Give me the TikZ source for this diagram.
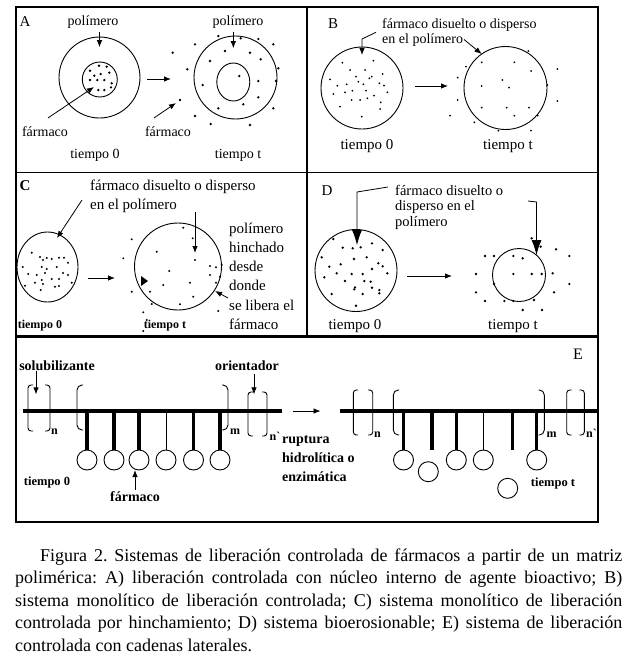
\documentclass[tikz,border=0pt]{standalone}
\usepackage{fontspec}
\setmainfont{Liberation Serif}
\usetikzlibrary{arrows.meta,shapes.geometric}
\frenchspacing
\newcommand\myfs[1]{\fontsize{#1}{#1}\selectfont}
\newcommand\dotset[2]{\foreach \p in {#2} \fill \p circle (#1);}
\begin{document}
\begin{tikzpicture}[x=1pt,y=-1pt,
  frame/.style={line width=1.5pt},
  ring/.style={draw, line width=0.9pt, inner sep=0pt, outer sep=0pt},
  arr/.style={line width=0.8pt, -{Latex[length=7pt,width=5.5pt]}},
  bigarr/.style={line width=0.8pt, -{Latex[length=15pt,width=10pt]}},
  lab/.style={inner sep=0pt, anchor=base},
  brk/.style={line width=0.9pt, rounded corners=3pt},
  pend/.style={line width=3.5pt},
  thinpend/.style={line width=0.8pt},
  chain/.style={line width=4.5pt},
  mol/.style={ring, circle, minimum size=20pt},
]
\useasboundingbox (0,0) rectangle (643,667);
\fill[white] (0,0) rectangle (643,667);

% frame
\draw[frame] (16,7) rectangle (598,522);
\draw[frame] (16,172.5) -- (598,172.5);
\draw[line width=3pt] (16,336) -- (598,336);
\draw[frame] (307,7) -- (307,336);

% ---------------- Panel A
\node[ring,circle,minimum size=81pt] (Aout) at (99.5,77.5) {};
\node[ring,circle,minimum size=35pt] (Ain) at (99.8,79.5) {};
\node[ring,circle,minimum size=83pt] (Aout2) at (235.5,77.5) {};
\node[ring,ellipse,minimum width=33pt,minimum height=38pt] (Ain2) at (233.3,82) {};
\node[lab,font=\myfs{15}] (Alet) at (25,26.5) {A};
\node[lab,font=\myfs{14}] (Ap1) at (93,25) {polímero};
\node[lab,font=\myfs{14}] (Ap2) at (238,25) {polímero};
\node[lab,font=\myfs{14}] (Af1) at (45,136) {fármaco};
\node[lab,font=\myfs{14}] (Af2) at (168,136) {fármaco};
\node[lab,font=\myfs{14}] (At0) at (95,158.5) {tiempo 0};
\node[lab,font=\myfs{14}] (Att) at (238,158.5) {tiempo t};
\draw[arr] (Ap1.south -| Aout.north) ++(0,4) -- ++(0,15);
\draw[arr] (Ap2.south -| Ain2.north) ++(0,4) -- ++(0,16);
\draw[arr] (Af1.north) ++(3,-8) -- (94,87);
\draw[arr] (Af2.north) ++(-14,-8) -- (176,103);
\draw[arr] (Aout.east) ++(7,1.5) -- ++(24,0);
\dotset{1.3pt}{(90,70.7),(99,65.7),(106.7,66.7),(94.3,75.7),(100.7,74),(109.3,72.7),(90,80),(97.3,80),(104.3,80),(111.7,83.3),(98.3,90),(104.3,90),(111,87.3)}
\dotset{1.3pt}{(172.7,52.7),(187.3,69.3),(180,100),(195,44.3),(218.3,36),(240.7,38.3),(258.3,39),(273.3,44.3),(225,51),(250,52.7),(210,61),(260.7,59.3),(278.3,68.3),(276,81),(202.7,85),(239.3,76),(258.3,81),(258.3,97.3),(243.3,104.3),(218.3,108.3),(273.3,108.3),(195,116),(210.7,124),(250,125)}

% ---------------- Panel B
\node[lab,font=\myfs{15}] (Blet) at (333,28.3) {B};
\node[lab,anchor=base west,font=\fontsize{14}{14.6}\selectfont] (Btxt) at (382,28.7) {\parbox[t]{170pt}{\raggedright fármaco disuelto o disperso\\en el polímero}};
\node[ring,circle,minimum size=82pt] (Bc1) at (362,88) {};
\node[ring,circle,minimum size=83pt] (Bc2) at (505.5,88) {};
\draw[arr] (376,32.3) -- (362,39) -- ([yshift=-8pt]Bc1.north);
\draw[arr] (464,39.5) -- (Bc2.125);
\draw[arr] (Bc1.east) ++(12,-2) -- ++(33,0);
\node[lab,font=\myfs{15}] (Bt0) at (367,149.3) {tiempo 0};
\node[lab,font=\myfs{15}] (Btt) at (508,149.3) {tiempo t};
\dotset{1pt}{(342.3,62.7),(373.3,60.7),(350,70),(365,70),(356,76.7),(371.7,76.7),(382.7,74),(330,79.3),(358.3,81.7),(369.3,78.3),(337.3,85.7),(346.7,84.3),(363.3,84.3),(379.3,83.3),(384,85.7),(333.3,94),(345,92.3),(352.3,90.7),(366,90.7),(374,95.7),(387.3,92.3),(351.7,100),(360,100),(367.3,98.3),(380.7,102.3),(380,109),(340,106.7),(361.7,116.7)}
\dotset{1pt}{(475.7,51),(528.3,51),(466,66.7),(481.7,62.3),(514.3,62.3),(531,71),(557.3,69),(457.7,77.7),(502.3,80),(509,87.7),(481.7,86),(547.3,85),(457.7,100),(557.3,101),(481.7,107.7),(506.7,107.7),(529,107.7),(450,115.7),(514.3,115.7),(537.7,115.7),(474.3,122.3),(498.3,130.7),(531,130.7)}

% ---------------- Panel C
\node[lab,font=\bfseries\myfs{15}] (Clet) at (25,190.7) {C};
\node[lab,anchor=base west,font=\fontsize{15}{18.3}\selectfont] (Ctxt) at (90,190.7) {\parbox[t]{200pt}{\raggedright fármaco disuelto o disperso\\en el polímero}};
\node[ring,ellipse,minimum width=61pt,minimum height=70pt] (Cc1) at (47.5,267) {};
\node[ring,circle,minimum size=87pt] (Cc2) at (178,266.5) {};
\draw[arr] (82,200) -- (57,238);
\draw[arr] (195,212) -- (195,253);
\node[lab,anchor=base west,font=\fontsize{15}{19.2}\selectfont] (Crt) at (229,233.3) {\parbox[t]{80pt}{\raggedright polímero\\hinchado\\desde\\donde\\se libera el\\fármaco}};
\draw[arr] (228,298) -- (215,291);
\fill (141,276) -- (141,286) -- (148,281) -- cycle;
\draw[arr] (88,278) -- (115,278);
\node[lab,font=\bfseries\myfs{12}] (Ct0) at (40,328.3) {tiempo 0};
\node[lab,font=\bfseries\myfs{12}] (Ctt) at (165,328.3) {tiempo t};
\dotset{1.1pt}{(31.7,252.7),(40,257),(43,260),(46.7,258),(51.7,259),(59,257.7),(64,257.7),(68,262.7),(22.7,267),(41.7,267),(46.7,269),(56.7,267),(28.3,274),(36.7,275),(45,273),(63,273),(68,275),(35,282.7),(41.7,280),(51.7,279),(59,279),(71.7,282.7),(25,285.7),(43,284),(55,286.7),(59,286),(40.7,290)}
\dotset{1.1pt}{(183.3,227.7),(192.7,238.3),(131.7,239.3),(156.7,251.7),(123.3,258.3),(195,260),(210,266),(216,267.3),(221.7,265),(169.3,271),(210,275),(220,276.7),(190,282.7),(163.3,285),(216,282.7),(150,291.7),(131.7,291.7),(193.3,296.7),(180,304.3),(151.7,304),(218.3,311),(143.3,312.3),(146.7,320),(143.3,331)}

% ---------------- Panel D
\node[lab,font=\myfs{15}] (Dlet) at (327,195) {D};
\node[lab,anchor=base west,font=\fontsize{14.5}{15.5}\selectfont] (Dtxt) at (395,195) {\parbox[t]{130pt}{\raggedright fármaco disuelto o\\disperso en el\\polímero}};
\node[ring,circle,minimum size=82pt] (Dc1) at (356,270.5) {};
\node[ring,circle,minimum size=53pt] (Dc2) at (519,275) {};
\draw[bigarr] (388,187) -- (357,192) -- (357,245);
\draw[bigarr] (528,201) -- (536.5,202) -- (536.5,255);
\draw[arr] (407,276) -- (452,276);
\node[lab,font=\myfs{15}] (Dt0) at (355,329.3) {tiempo 0};
\node[lab,font=\myfs{15}] (Dtt) at (513,329.3) {tiempo t};
\dotset{1.3pt}{(333.3,239),(342.7,247.7),(352.7,248.3),(360.7,247.3),(372,243.3),(382.7,250),(321.7,257.3),(354,259),(366.7,257.3),(329.3,266.7),(340.7,264.3),(378.3,263.3),(382.7,266.3),(372,269),(336.7,273.3),(351.7,274),(362.7,274),(387.3,273.3),(324.3,277.3),(345,281),(364.3,281),(370.7,281.7),(355,287.3),(354.3,289.3),(372,287.7),(379.3,290),(379.3,293.3),(331.7,294),(362.7,294),(356,305.7)}
\dotset{1.3pt}{(531.7,238.3),(540.7,246.7),(556,249.3),(485,256),(494,256),(513.3,256),(522.7,258.3),(569.3,256),(476,274),(513.3,274),(531.7,274),(541.7,274),(552.7,273.3),(494,284),(569.3,284),(476,292.3),(554,292.3),(485,301),(504.3,301),(513.3,301),(534,300),(522.7,310),(542,310)}

% ---------------- Panel E
\node[lab,font=\bfseries\myfs{14}] (sol) at (57,370) {solubilizante};
\node[lab,font=\bfseries\myfs{14}] (ori) at (247,370) {orientador};
\node[lab,font=\myfs{16}] (Elet) at (578,359) {E};
\coordinate (barL1) at (23,411);
\coordinate (barL2) at (282,411);
\draw[chain] (barL1) -- (barL2);
\draw[brk] (33,385) -- (28,385) -- (28,431) -- (33,431);
\draw[brk] (45,385) -- (50,385) -- (50,431) -- (45,431);
\node[lab,font=\bfseries\myfs{12}] (sn1) at (54.5,434.3) {n};
\draw[brk,rounded corners=5pt] (83,385) -- (77,385) -- (77,430) -- (83,430);
\draw[brk,rounded corners=5pt] (222,385) -- (228,385) -- (228,430) -- (222,430);
\node[lab,font=\bfseries\myfs{12}] (sm1) at (235,434.3) {m};
\draw[brk] (253,392) -- (248,392) -- (248,436) -- (253,436);
\draw[brk] (262,392) -- (267,392) -- (267,436) -- (262,436);
\node[lab,font=\bfseries\myfs{12}] (sn2) at (275,440) {n\textasciigrave};
\draw[arr] (sol.south) ++(-21,1) -- ++(0,23);
\draw[arr] (ori.south) ++(7,4) -- ++(0,20);
\foreach \i/\x in {1/87,2/114,3/139,5/193.5,6/220}{
  \node[mol] (L\i) at (\x,460) {};
  \draw[pend] (L\i.north |- barL1) -- (L\i.north);
}
\node[mol] (L4) at (166,460) {};
\draw[thinpend] (L4.north |- barL1) -- (L4.north);
\node[lab,font=\bfseries\fontsize{12.5}{12.5}\selectfont] (Et0) at (47,485) {tiempo 0};
\node[lab,font=\bfseries\myfs{14}] (Efa) at (135,501.7) {fármaco};
\draw[arr] (Efa.north) ++(0,-2) -- (Efa.north |- L3.south);
\draw[arr, line width=0.7pt] (barL2) ++(11,0) -- (320.5,411);
\node[lab,anchor=base west,font=\bfseries\fontsize{14}{19}\selectfont] (rup) at (282,443.3) {\parbox[t]{90pt}{\raggedright ruptura\\hidrolítica o\\enzimática}};
% right chain
\coordinate (barR1) at (340,411);
\coordinate (barR2) at (598,411);
\draw[chain] (barR1) -- (barR2);
\draw[brk] (358,390) -- (353.3,390) -- (353.3,435) -- (358,435);
\draw[brk] (368,390) -- (372.7,390) -- (372.7,435) -- (368,435);
\node[lab,font=\bfseries\myfs{12}] (sn3) at (377.5,437.7) {n};
\draw[brk,rounded corners=5pt] (399,390) -- (393.3,390) -- (393.3,435) -- (399,435);
\draw[brk,rounded corners=5pt] (538.5,390) -- (544.3,390) -- (544.3,435) -- (538.5,435);
\node[lab,font=\bfseries\myfs{12}] (sm2) at (551.7,437.7) {m};
\draw[brk] (571.7,390) -- (566.7,390) -- (566.7,435) -- (571.7,435);
\draw[brk] (579.3,390) -- (584.3,390) -- (584.3,435) -- (579.3,435);
\node[lab,font=\bfseries\myfs{12}] (sn4) at (591.5,437.7) {n\textasciigrave};
\foreach \i/\x in {1/403.5,3/456.3,6/536.7}{
  \node[mol] (R\i) at (\x,460) {};
  \draw[pend] (R\i.north |- barR1) -- (R\i.north);
}
\node[mol] (R4) at (483.3,460) {};
\draw[thinpend] (R4.north |- barR1) -- (R4.north);
\node[mol] (R2) at (428.3,471.7) {};
\node[mol] (R5) at (507.7,488.3) {};
\coordinate (fp1) at (432,450);
\coordinate (fp2) at (512.3,450);
\draw[pend] (fp1 |- barR1) -- (fp1);
\draw[pend] (fp2 |- barR1) -- (fp2);
\node[lab,font=\bfseries\fontsize{12.5}{12.5}\selectfont] (Ett) at (553,486.7) {tiempo t};

% ---------------- Caption
\node[lab,anchor=base west] (cap) at (15,561) {\parbox[t]{607pt}{\fontsize{18}{22.6}\selectfont\hspace*{25pt}Figura 2. Sistemas de liberación controlada de fármacos a partir de un matriz\linebreak polimérica: A) liberación controlada con núcleo interno de agente bioactivo; B)\linebreak sistema monolítico de liberación controlada; C) sistema monolítico de liberación\linebreak controlada por hinchamiento; D) sistema bioerosionable; E) sistema de liberación\linebreak controlada con cadenas laterales.}};
\end{tikzpicture}
\end{document}
